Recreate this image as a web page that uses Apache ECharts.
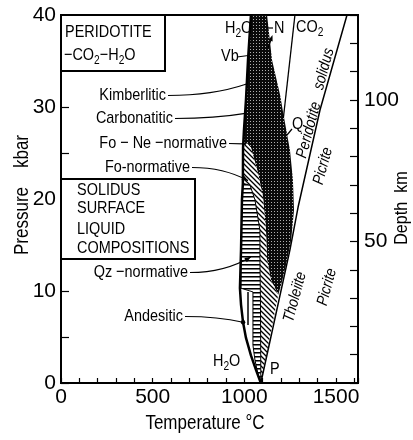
<!DOCTYPE html>
<html>
<head>
<meta charset="utf-8">
<script src="https://cdn.jsdelivr.net/npm/echarts@6/dist/echarts.min.js"></script>
<style>
  html, body { margin: 0; padding: 0; background: #fff; }
  #main { width: 413px; height: 440px; }
</style>
</head>
<body>
<div id="main"></div>
<script>
// Peridotite–CO2–H2O: solidus surface and the liquid compositions along it.
// Every point is [temperature °C, pressure kbar].

const tempLabels = [0, 500, 1000, 1500];
const pressureLabels = [0, 10, 20, 30, 40];
const depthLabels = [50, 100];

// H2O-saturated solidus (left boundary of the liquid fields)
const h2oSolidus = [
  [1036, 40], [1020, 35.1], [1009, 30.8], [998, 27.5], [993, 25.6], [992, 21.7],
  [987, 19.9], [982, 14.5], [976, 10.3], [982, 8.5], [993, 6.6], [1009, 4.9],
  [1036, 3.0], [1064, 1.4], [1090, 0]
];
// CO2 solidus branch, ending at Q
const co2Solidus = [[1276, 40], [1213, 28.8]];
// volatile-free peridotite solidus
const peridotiteSolidus = [[1090, 0], [1249, 14.5], [1293, 19.1], [1413, 29.7], [1560, 40]];

// kimberlitic / carbonatitic / Fo-Ne-normative liquids
const carbonateField = [
  [1036, 40], [1020, 35.1], [1009, 30.8], [998, 27.5], [993, 25.6],
  [1036, 25.6], [1075, 22.8], [1102, 20.2], [1118, 16.6], [1124, 13.4], [1145, 11.2], [1185, 9.6],
  [1205, 11.0], [1227, 12.8], [1255, 15.5], [1271, 18.8], [1265, 22.1], [1249, 25.3],
  [1218, 28.7], [1195, 31.3], [1151, 35.1], [1124, 40]
];
// Fo-normative liquids
const foNormativeField = [
  [993, 25.6], [992, 21.7], [1031, 21.5], [1058, 19.9], [1085, 16.6], [1085, 13.4],
  [1088, 9.0], [1090, 0], [1185, 9.6], [1145, 11.2], [1124, 13.4], [1118, 16.6],
  [1102, 20.2], [1075, 22.8], [1036, 25.6], [1015, 26.1]
];
// Qz-normative liquids
const qzNormativeField = [
  [992, 21.7], [1031, 21.5], [1058, 19.9], [1085, 16.6], [1085, 13.4], [1088, 9.0],
  [1090, 0], [1075, 0.9], [1058, 2.5], [1047, 4.1], [1047, 9.9], [982, 10.3],
  [982, 14.5], [987, 19.9]
];
// inner boundary inside the andesitic field
const andesiticLine = [[1020, 9.9], [1020, 6.3]];

// where each field label's leader ends
const fieldLabels = ['Kimberlitic', 'Carbonatitic', 'Fo − Ne −normative', 'Fo-normative', 'Qz −normative', 'Andesitic'];
const fieldTargets = [[1012, 32.5], [1006, 29.3], [996, 26.0], [1020, 22.0], [1035, 13.7], [993, 6.6]];

const FONT = "'Liberation Sans',Arimo,sans-serif";
const NARROW = 0.85;           // lettering is drawn condensed
const KM_PER_KBAR = 3.25;

function makeTile(w, h, draw) {
  const c = document.createElement('canvas');
  c.width = w; c.height = h;
  draw(c.getContext('2d'));
  return c;
}
const dotTile = makeTile(3, 3, g => {
  g.fillStyle = '#0a0a0a'; g.fillRect(0, 0, 3, 3);
  g.fillStyle = '#b0b0b0'; g.fillRect(1, 1, 1, 1);
});
const hatchTile = makeTile(5, 5, g => {
  g.fillStyle = '#fff'; g.fillRect(0, 0, 5, 5);
  g.strokeStyle = '#000'; g.lineWidth = 1.3;
  g.beginPath();
  g.moveTo(-1, -1); g.lineTo(6, 6);
  g.moveTo(-1, 4); g.lineTo(1, 6);
  g.moveTo(4, -1); g.lineTo(6, 1);
  g.stroke();
});
const stripeTile = makeTile(4, 4, g => {
  g.fillStyle = '#fff'; g.fillRect(0, 0, 4, 4);
  g.fillStyle = '#000'; g.fillRect(0, 0, 4, 1);
  g.fillStyle = '#777'; g.fillRect(0, 1, 4, 1);
});

function field(name, pts, fill, stroke, z) {
  return {
    type: 'custom', name, silent: true, z,
    xAxisIndex: 0, yAxisIndex: 0,
    data: [pts[0]],
    renderItem: (params, api) => ({
      type: 'polygon',
      shape: { points: pts.map(p => api.coord(p)) },
      style: { fill, stroke: stroke || null, lineWidth: stroke ? 1 : 0 }
    })
  };
}
function curve(name, pts, width, z) {
  return {
    type: 'line', name, data: pts, silent: true, z,
    xAxisIndex: 0, yAxisIndex: 0,
    showSymbol: false, symbol: 'none',
    lineStyle: { color: '#000', width }
  };
}
const tickLabel = list => ({
  color: '#000', fontFamily: FONT, fontSize: 21,
  formatter: v => list.includes(v) ? String(v) : ''
});

const chart = echarts.init(document.getElementById('main'), null, { renderer: 'canvas' });

chart.setOption({
  animation: false,
  backgroundColor: '#fff',
  grid: {
    left: 61, right: 55, top: 15, bottom: 57,
    show: true, borderColor: '#000', borderWidth: 2, backgroundColor: 'transparent',
    containLabel: false, outerBoundsMode: 'none'
  },
  xAxis: {
    type: 'value', min: 0, max: 1620, interval: 100,
    axisLine: { show: true, lineStyle: { color: '#000', width: 2 } },
    axisTick: { show: true, inside: true, length: 5, lineStyle: { color: '#000', width: 1.2 } },
    axisLabel: Object.assign(tickLabel(tempLabels), { margin: 4 }),
    splitLine: { show: false }
  },
  yAxis: [{
    type: 'value', min: 0, max: 40, interval: 5, position: 'left',
    axisLine: { show: true, lineStyle: { color: '#000', width: 2 } },
    axisTick: { show: true, inside: true, length: 8, lineStyle: { color: '#000', width: 1.2 } },
    axisLabel: Object.assign(tickLabel(pressureLabels), { margin: 5 }),
    splitLine: { show: false }
  }, {
    type: 'value', min: 0, max: 40 * KM_PER_KBAR, interval: 10, position: 'right',
    axisLine: { show: true, lineStyle: { color: '#000', width: 2 } },
    axisTick: { show: true, inside: true, length: 8, lineStyle: { color: '#000', width: 1.2 } },
    axisLabel: Object.assign(tickLabel(depthLabels), { margin: 6 }),
    splitLine: { show: false }
  }],
  series: [
    field('Carbonate-bearing liquids', carbonateField, { image: dotTile, repeat: 'repeat' }, null, 2),
    field('Fo-normative', foNormativeField, { image: hatchTile, repeat: 'repeat' }, null, 3),
    field('Qz-normative', qzNormativeField, { image: stripeTile, repeat: 'repeat' }, '#000', 4),
    curve('Andesitic boundary', andesiticLine, 1.5, 5),
    curve('H2O solidus', h2oSolidus, 2.5, 6),
    curve('CO2 solidus', co2Solidus, 1.3, 6),
    curve('Peridotite solidus', peridotiteSolidus, 1.5, 6)
  ]
});

// ---- annotations ----
const toPx = p => chart.convertToPixel({ xAxisIndex: 0, yAxisIndex: 0 }, p);
const SUB = { s: { fontSize: 12, fontFamily: FONT, fill: '#000', verticalAlign: 'bottom', lineHeight: 12 } };

function label(x, y, text, o = {}) {
  const align = o.align || 'left';
  return {
    type: 'text', x, y, z: 30, rotation: o.rotation || 0, silent: true,
    scaleX: o.scaleX || NARROW, scaleY: 1,
    style: {
      text, fill: '#000', fontFamily: FONT, fontSize: o.size || 17,
      fontStyle: o.italic ? 'italic' : 'normal',
      align, textAlign: align, verticalAlign: 'middle', textVerticalAlign: 'middle',
      lineHeight: o.rich ? 23 : undefined, rich: o.rich ? SUB : undefined
    }
  };
}
function arrowHead(from, to, len = 6, half = 2.5) {
  const dx = to[0] - from[0], dy = to[1] - from[1];
  const d = Math.hypot(dx, dy) || 1;
  const ux = dx / d, uy = dy / d;
  const bx = to[0] - ux * len, by = to[1] - uy * len;
  return {
    type: 'polygon', z: 31, silent: true,
    shape: { points: [to, [bx - uy * half, by + ux * half], [bx + uy * half, by - ux * half]] },
    style: { fill: '#000' }
  };
}
function leader(start, end, c1, c2) {
  return {
    type: 'bezierCurve', z: 29, silent: true,
    shape: { x1: start[0], y1: start[1], x2: end[0], y2: end[1], cpx1: c1[0], cpy1: c1[1], cpx2: c2[0], cpy2: c2[1] },
    style: { stroke: '#000', lineWidth: 1.2, fill: null }
  };
}
const seg = (x1, y1, x2, y2) => ({
  type: 'line', z: 29, silent: true, shape: { x1, y1, x2, y2 }, style: { stroke: '#000', lineWidth: 1.2 }
});

const ROT = 75 * Math.PI / 180;
const g = [];

// framed titles
g.push({ type: 'rect', z: 25, silent: true, shape: { x: 61, y: 15, width: 104, height: 56 },
  style: { fill: '#fff', stroke: '#000', lineWidth: 2 } });
g.push(label(65, 32, 'PERIDOTITE'));
g.push(label(64, 55, '−CO{s|2}−H{s|2}O', { rich: true }));
g.push({ type: 'rect', z: 25, silent: true, shape: { x: 61, y: 179, width: 134, height: 80 },
  style: { fill: '#fff', stroke: '#000', lineWidth: 2 } });
['SOLIDUS', 'SURFACE', 'LIQUID', 'COMPOSITIONS'].forEach((t, i) => g.push(label(77, [190, 208, 229, 248][i], t)));

// field labels with leaders
const textEnds = [[166, 95], [173, 118], [227, 143], [190, 167], [188, 272], [183, 316]];
fieldLabels.forEach((t, i) => {
  const [tx, ty] = textEnds[i];
  g.push(label(tx, ty, t, { align: 'right' }));
  const end = toPx(fieldTargets[i]);
  const start = [tx + 2, ty + 0.5];
  const c1 = [start[0] + (end[0] - start[0]) * 0.55, start[1]];
  const c2 = [start[0] + (end[0] - start[0]) * 0.85, end[1] + (start[1] - end[1]) * 0.35];
  g.push(leader(start, end, c1, c2));
  if (i === 3 || i === 4) g.push(arrowHead(c2, end));
  if (i === 5) g.push({ type: 'circle', z: 31, silent: true, shape: { cx: end[0], cy: end[1], r: 2.2 }, style: { fill: '#000' } });
});

// labels at the top of the liquid fields
g.push(label(225, 28, 'H{s|2}O', { rich: true }));
g.push(label(221, 56, 'Vb'));
const vb = toPx([1022, 35.6]);
g.push(seg(237, 57, vb[0], vb[1]));
g.push(label(274, 28, 'N'));
g.push(seg(267, 28, 273, 28));
g.push(seg(268, 48, 271, 40));
g.push(arrowHead([268, 48], [272.5, 35], 6, 2.2));
g.push(label(296, 27, 'CO{s|2}', { rich: true }));
g.push(label(292, 124, 'Q'));
g.push(seg(292, 129, 287, 135));

// bottom apex
g.push(label(213, 361, 'H{s|2}O', { rich: true }));
g.push(label(270, 369, 'P'));

// labels along the solidus
const along = { rotation: ROT, italic: true, size: 16, align: 'center' };
g.push(label(324, 69, 'solidus', along));
g.push(label(309, 130, 'Peridotite', along));
g.push(label(323, 166, 'Picrite', along));
g.push(label(295, 297, 'Tholeiite', along));
g.push(label(327, 287, 'Picrite', along));

// axis titles
g.push(label(205, 423, 'Temperature °C', { size: 20, align: 'center' }));
g.push(label(22, 195, 'Pressure    kbar', { size: 20, align: 'center', rotation: Math.PI / 2 }));
g.push(label(402, 208, 'Depth  km', { size: 19, align: 'center', rotation: Math.PI / 2 }));

chart.setOption({ graphic: { elements: g } });
</script>
</body>
</html>
